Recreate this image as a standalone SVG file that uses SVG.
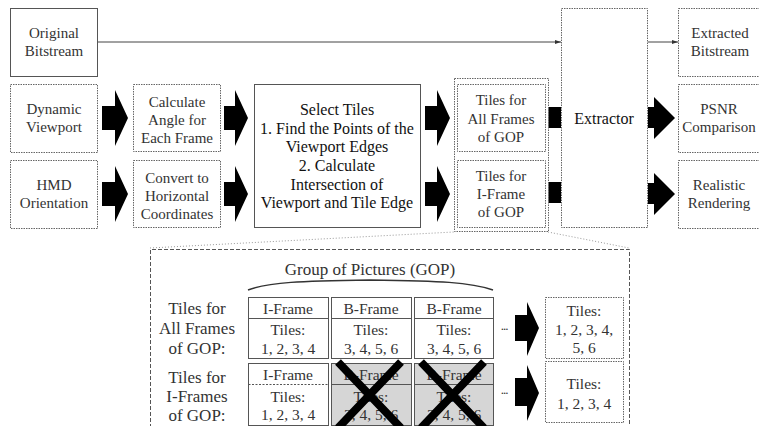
<svg xmlns="http://www.w3.org/2000/svg" width="759" height="426" viewBox="0 0 759 426">
<defs>
<style>
text{font-family:"Liberation Serif",Tinos,"Times New Roman",Times,"Nimbus Roman","FreeSerif","Noto Serif","DejaVu Serif",serif;text-anchor:middle}
.t{font-size:15px;fill:#333}
.tb{font-size:16px;fill:#111}
.tc{font-size:15.5px;fill:#333}
.tl{font-size:17px;fill:#333}
.box{fill:#fff;stroke:#666;stroke-width:1;stroke-dasharray:1.5 1}
.solid{fill:#fff;stroke:#555;stroke-width:1}
.cell{fill:#fff;stroke:#555;stroke-width:1}
.gray{fill:#d6d6d6;stroke:#555;stroke-width:1}
.arrow{fill:#000}
.x{stroke:#000;stroke-width:8}
.faint{fill:none;stroke:#999;stroke-width:1;stroke-dasharray:1 2}
.dash{fill:none;stroke:#555;stroke-width:1;stroke-dasharray:4 2}
</style>
<marker id="ah" markerWidth="6" markerHeight="6" refX="6" refY="3" orient="auto" markerUnits="userSpaceOnUse">
<path d="M0,1 L6,3 L0,5 Z" fill="#333"/>
</marker>
</defs>
<rect width="759" height="426" fill="#fff"/>

<g id="connectors">
<line x1="97" y1="42" x2="561" y2="42" stroke="#444" stroke-width="1" marker-end="url(#ah)"/>
<line x1="648" y1="42" x2="678" y2="42" stroke="#444" stroke-width="1" marker-end="url(#ah)"/>
<polygon class="arrow" points="102,106 115,106 115,90 128,118 115,146 115,130 102,130"/>
<polygon class="arrow" points="102,182 115,182 115,166 128,194 115,222 115,206 102,206"/>
<polygon class="arrow" points="224,106 235,106 235,90 248,118 235,146 235,130 224,130"/>
<polygon class="arrow" points="224,182 235,182 235,166 248,194 235,222 235,206 224,206"/>
<polygon class="arrow" points="425,106 437,106 437,90 450,118 437,146 437,130 425,130"/>
<polygon class="arrow" points="425,182 437,182 437,166 450,194 437,222 437,206 425,206"/>
<rect class="arrow" x="548" y="107" width="13" height="21"/>
<rect class="arrow" x="548" y="182" width="13" height="21"/>
<polygon class="arrow" points="648,107 654,107 654,97 675,118 654,139 654,128 648,128"/>
<polygon class="arrow" points="648,183 654,183 654,173 675,194 654,215 654,204 648,204"/>
<polygon class="arrow" points="515,315 527,315 527,302 539,328 527,356 527,341 515,341"/>
<polygon class="arrow" points="515,378 527,378 527,365 539,393 527,421 527,406 515,406"/>
<path class="faint" d="M150,248 L454,232 M548,232 L629,248"/>
</g>

<g id="original-bitstream">
<rect class="solid" x="10.5" y="8.5" width="87" height="68"/>
<text class="t" x="54" y="38">Original</text>
<text class="t" x="54" y="56">Bitstream</text>
</g>
<g id="dynamic-viewport">
<rect class="box" x="10.5" y="84.5" width="87" height="68"/>
<text class="t" x="54" y="114">Dynamic</text>
<text class="t" x="54" y="132">Viewport</text>
</g>
<g id="hmd-orientation">
<rect class="box" x="10.5" y="160.5" width="87" height="68"/>
<text class="t" x="54" y="190">HMD</text>
<text class="t" x="54" y="208">Orientation</text>
</g>
<g id="calc-angle">
<rect class="box" x="133.5" y="84.5" width="87" height="67"/>
<text class="t" x="177" y="107">Calculate</text>
<text class="t" x="177" y="125">Angle for</text>
<text class="t" x="177" y="143">Each Frame</text>
</g>
<g id="convert-coords">
<rect class="box" x="133.5" y="160.5" width="87" height="67"/>
<text class="t" x="177" y="183">Convert to</text>
<text class="t" x="177" y="201">Horizontal</text>
<text class="t" x="177" y="219">Coordinates</text>
</g>
<g id="select-tiles">
<rect class="solid" x="254.5" y="84.5" width="166" height="143"/>
<text class="tb" x="337" y="115">Select Tiles</text>
<text class="tb" x="337" y="134">1. Find the Points of the</text>
<text class="tb" x="337" y="152">Viewport Edges</text>
<text class="tb" x="337" y="171">2. Calculate</text>
<text class="tb" x="337" y="190">Intersection of</text>
<text class="tb" x="337" y="208">Viewport and Tile Edge</text>
</g>
<g id="tiles-group">
<rect class="box" x="454.5" y="78.5" width="94" height="153"/>
</g>
<g id="tiles-all-frames">
<rect class="box" x="457.5" y="84.5" width="88" height="67"/>
<text class="t" x="501" y="105">Tiles for</text>
<text class="t" x="501" y="124">All Frames</text>
<text class="t" x="501" y="142">of GOP</text>
</g>
<g id="tiles-i-frame">
<rect class="box" x="457.5" y="160.5" width="88" height="67"/>
<text class="t" x="501" y="181">Tiles for</text>
<text class="t" x="501" y="199">I-Frame</text>
<text class="t" x="501" y="217">of GOP</text>
</g>
<g id="extractor">
<rect class="box" x="561.5" y="8.5" width="86" height="219"/>
<text class="tb" x="604" y="124">Extractor</text>
</g>
<g id="extracted-bitstream">
<rect class="box" x="678.5" y="8.5" width="86" height="68"/>
<text class="t" x="720" y="38">Extracted</text>
<text class="t" x="720" y="56">Bitstream</text>
</g>
<g id="psnr">
<rect class="box" x="678.5" y="84.5" width="86" height="68"/>
<text class="t" x="719" y="114">PSNR</text>
<text class="t" x="719" y="132">Comparison</text>
</g>
<g id="rendering">
<rect class="box" x="678.5" y="160.5" width="86" height="68"/>
<text class="t" x="719" y="190">Realistic</text>
<text class="t" x="719" y="208">Rendering</text>
</g>

<g id="gop-panel">
<path class="dash" d="M150.5,428 L150.5,249.5 L629.5,249.5 L629.5,428"/>
<text class="tl" x="370" y="275">Group of Pictures (GOP)</text>
<path d="M248,290 C270,282 300,281 370,280 C440,281 470,282 493,290" fill="none" stroke="#333" stroke-width="1.5"/>
<text class="tl" x="197" y="314">Tiles for</text>
<text class="tl" x="197" y="334">All Frames</text>
<text class="tl" x="197" y="354">of GOP:</text>
<text class="tl" x="197" y="383">Tiles for</text>
<text class="tl" x="197" y="402">I-Frames</text>
<text class="tl" x="197" y="421">of GOP:</text>
</g>
<g id="row1-iframe">
<rect class="cell" x="248.5" y="297.5" width="80" height="61"/>
<line x1="248.5" y1="318.5" x2="328.5" y2="318.5" stroke="#555"/>
<text class="tc" x="288" y="314">I-Frame</text>
<text class="tc" x="288" y="335">Tiles:</text>
<text class="tc" x="288" y="354">1, 2, 3, 4</text>
</g>
<g id="row1-bframe1">
<rect class="cell" x="331.5" y="297.5" width="80" height="61"/>
<line x1="331.5" y1="318.5" x2="411.5" y2="318.5" stroke="#555"/>
<text class="tc" x="371" y="314">B-Frame</text>
<text class="tc" x="371" y="335">Tiles:</text>
<text class="tc" x="371" y="354">3, 4, 5, 6</text>
</g>
<g id="row1-bframe2">
<rect class="cell" x="414.5" y="297.5" width="79" height="61"/>
<line x1="414.5" y1="318.5" x2="493.5" y2="318.5" stroke="#555"/>
<text class="tc" x="454" y="314">B-Frame</text>
<text class="tc" x="454" y="335">Tiles:</text>
<text class="tc" x="454" y="354">3, 4, 5, 6</text>
</g>
<g id="row2-iframe">
<rect class="cell" x="248.5" y="363.5" width="80" height="62"/>
<line x1="248.5" y1="384.5" x2="328.5" y2="384.5" stroke="#555" stroke-dasharray="2 1.5"/>
<text class="tc" x="288" y="380">I-Frame</text>
<text class="tc" x="288" y="402">Tiles:</text>
<text class="tc" x="288" y="420">1, 2, 3, 4</text>
</g>
<g id="row2-bframe1">
<rect class="gray" x="331.5" y="363.5" width="80" height="62"/>
<line x1="331.5" y1="384.5" x2="411.5" y2="384.5" stroke="#555"/>
<text class="tc" x="371" y="380">B-Frame</text>
<text class="tc" x="371" y="402">Tiles:</text>
<text class="tc" x="371" y="420">3, 4, 5, 6</text>
<path class="x" d="M338,362 L401,428 M401,362 L338,428"/>
</g>
<g id="row2-bframe2">
<rect class="gray" x="414.5" y="363.5" width="79" height="62"/>
<line x1="414.5" y1="384.5" x2="493.5" y2="384.5" stroke="#555"/>
<text class="tc" x="454" y="380">B-Frame</text>
<text class="tc" x="454" y="402">Tiles:</text>
<text class="tc" x="454" y="420">3, 4, 5, 6</text>
<path class="x" d="M421,362 L484,428 M484,362 L421,428"/>
</g>
<g id="ellipsis">
<text class="tc" x="504" y="330" style="font-size:13px" letter-spacing="-1">...</text>
<text class="tc" x="504" y="394" style="font-size:13px" letter-spacing="-1">...</text>
</g>
<g id="result-all">
<rect class="box" x="545.5" y="297.5" width="78" height="61"/>
<text class="tc" x="584" y="316">Tiles:</text>
<text class="tc" x="584" y="335">1, 2, 3, 4,</text>
<text class="tc" x="584" y="353">5, 6</text>
</g>
<g id="result-i">
<rect class="box" x="545.5" y="361.5" width="78" height="61"/>
<text class="tc" x="584" y="389">Tiles:</text>
<text class="tc" x="584" y="409">1, 2, 3, 4</text>
</g>
</svg>
